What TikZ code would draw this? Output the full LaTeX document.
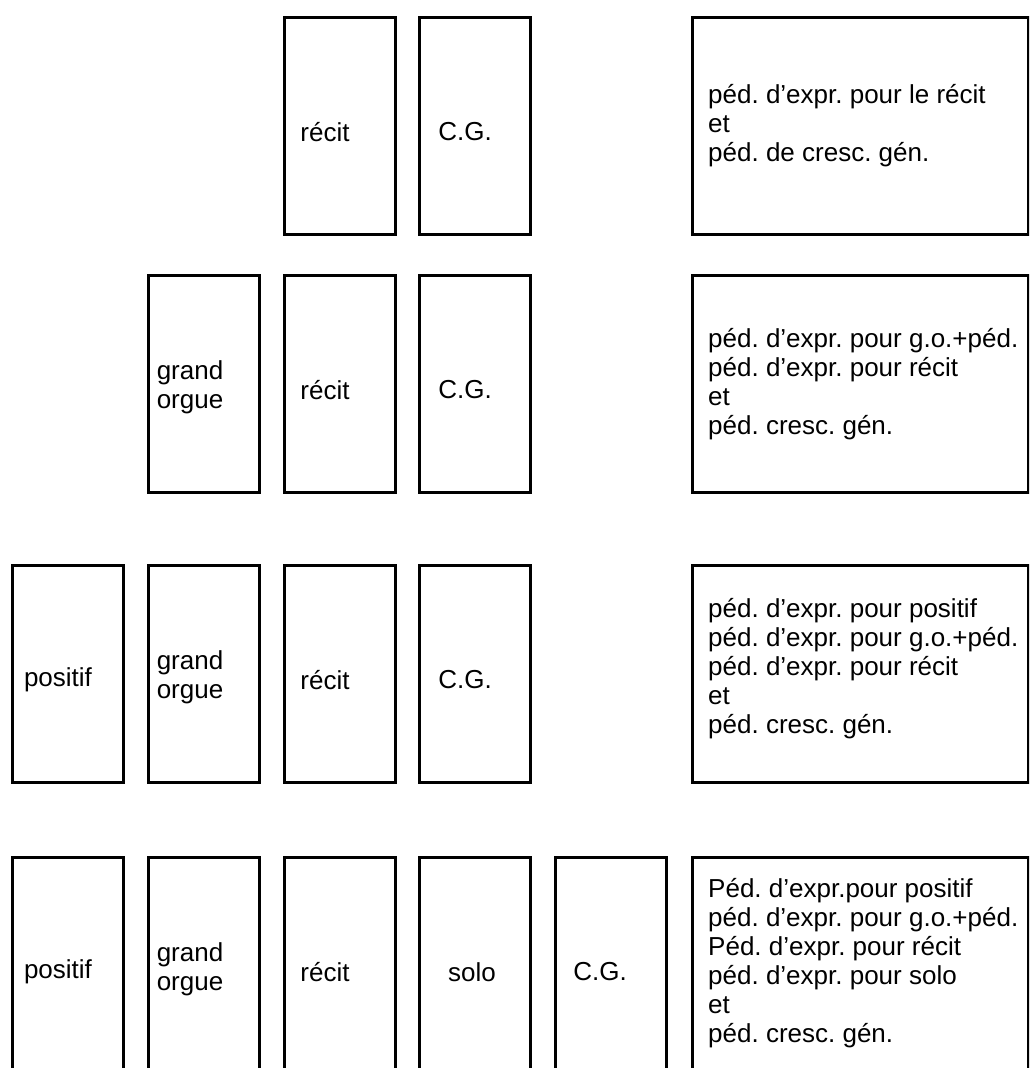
\documentclass[tikz,border=0pt]{standalone}
\usepackage{fontspec}
\setmainfont{Liberation Sans}
\begin{document}
\begin{tikzpicture}[x=1pt,y=-1pt,
  lab/.style={font=\fontsize{26}{29}\selectfont\frenchspacing, inner sep=0pt, align=left},
  box/.style={draw, line width=3pt, minimum width=111pt, minimum height=217pt, inner sep=0pt, anchor=north west},
  frame/.style={draw, line width=3pt, minimum width=336pt, minimum height=217pt, inner sep=0pt, anchor=north west},
  txt/.style={lab, anchor=west, xshift=17pt}]
\clip (0,0) rectangle (1029,1068);
\fill[white] (0,0) rectangle (1029,1068);
% row 1
\node[box] (r1recit) at (283,16) {};
\node[box] (r1cg) at (418,16) {};
\node[frame] (r1box) at (691,16) {};
\node[lab, xshift=-15pt, yshift=-6pt] (r1recitl) at (r1recit.center) {récit};
\node[lab, xshift=-10pt, yshift=-6pt] (r1cgl) at (r1cg.center) {C.G.};
\node[txt] (r1txt) at (r1box.west) {péd. d’expr. pour le récit\\et\\péd. de cresc. gén.};
% row 2
\node[box] (r2go) at (147,274) {};
\node[box] (r2recit) at (283,274) {};
\node[box] (r2cg) at (418,274) {};
\node[frame] (r2box) at (691,274) {};
\node[lab, xshift=-14pt, yshift=-3pt] (r2gol) at (r2go.center) {grand\\orgue};
\node[lab, xshift=-15pt, yshift=-6pt] (r2recitl) at (r2recit.center) {récit};
\node[lab, xshift=-10pt, yshift=-6pt] (r2cgl) at (r2cg.center) {C.G.};
\node[txt] (r2txt) at (r2box.west) {péd. d’expr. pour g.o.+péd.\\péd. d’expr. pour récit\\et\\péd. cresc. gén.};
% row 3
\node[box] (r3pos) at (11,564) {};
\node[box] (r3go) at (147,564) {};
\node[box] (r3recit) at (283,564) {};
\node[box] (r3cg) at (418,564) {};
\node[frame] (r3box) at (691,564) {};
\node[lab, xshift=-10pt, yshift=-6pt] (r3posl) at (r3pos.center) {positif};
\node[lab, xshift=-14pt, yshift=-3pt] (r3gol) at (r3go.center) {grand\\orgue};
\node[lab, xshift=-15pt, yshift=-6pt] (r3recitl) at (r3recit.center) {récit};
\node[lab, xshift=-10pt, yshift=-6pt] (r3cgl) at (r3cg.center) {C.G.};
\node[txt, yshift=5pt] (r3txt) at (r3box.west) {péd. d’expr. pour positif\\péd. d’expr. pour g.o.+péd.\\péd. d’expr. pour récit\\et\\péd. cresc. gén.};
% row 4
\node[box] (r4pos) at (11,856) {};
\node[box] (r4go) at (147,856) {};
\node[box] (r4recit) at (283,856) {};
\node[box] (r4solo) at (418,856) {};
\node[box] (r4cg) at (554,856) {};
\node[frame] (r4box) at (691,856) {};
\node[lab, xshift=-10pt, yshift=-6pt] (r4posl) at (r4pos.center) {positif};
\node[lab, xshift=-14pt, yshift=-3pt] (r4gol) at (r4go.center) {grand\\orgue};
\node[lab, xshift=-15pt, yshift=-6pt] (r4recitl) at (r4recit.center) {récit};
\node[lab, xshift=-3pt, yshift=-6pt] (r4solol) at (r4solo.center) {solo};
\node[lab, xshift=-11pt, yshift=-6pt] (r4cgl) at (r4cg.center) {C.G.};
\node[txt, yshift=3pt] (r4txt) at (r4box.west) {Péd. d’expr.pour positif\\péd. d’expr. pour g.o.+péd.\\Péd. d’expr. pour récit\\péd. d’expr. pour solo\\et\\péd. cresc. gén.};
\end{tikzpicture}
\end{document}
